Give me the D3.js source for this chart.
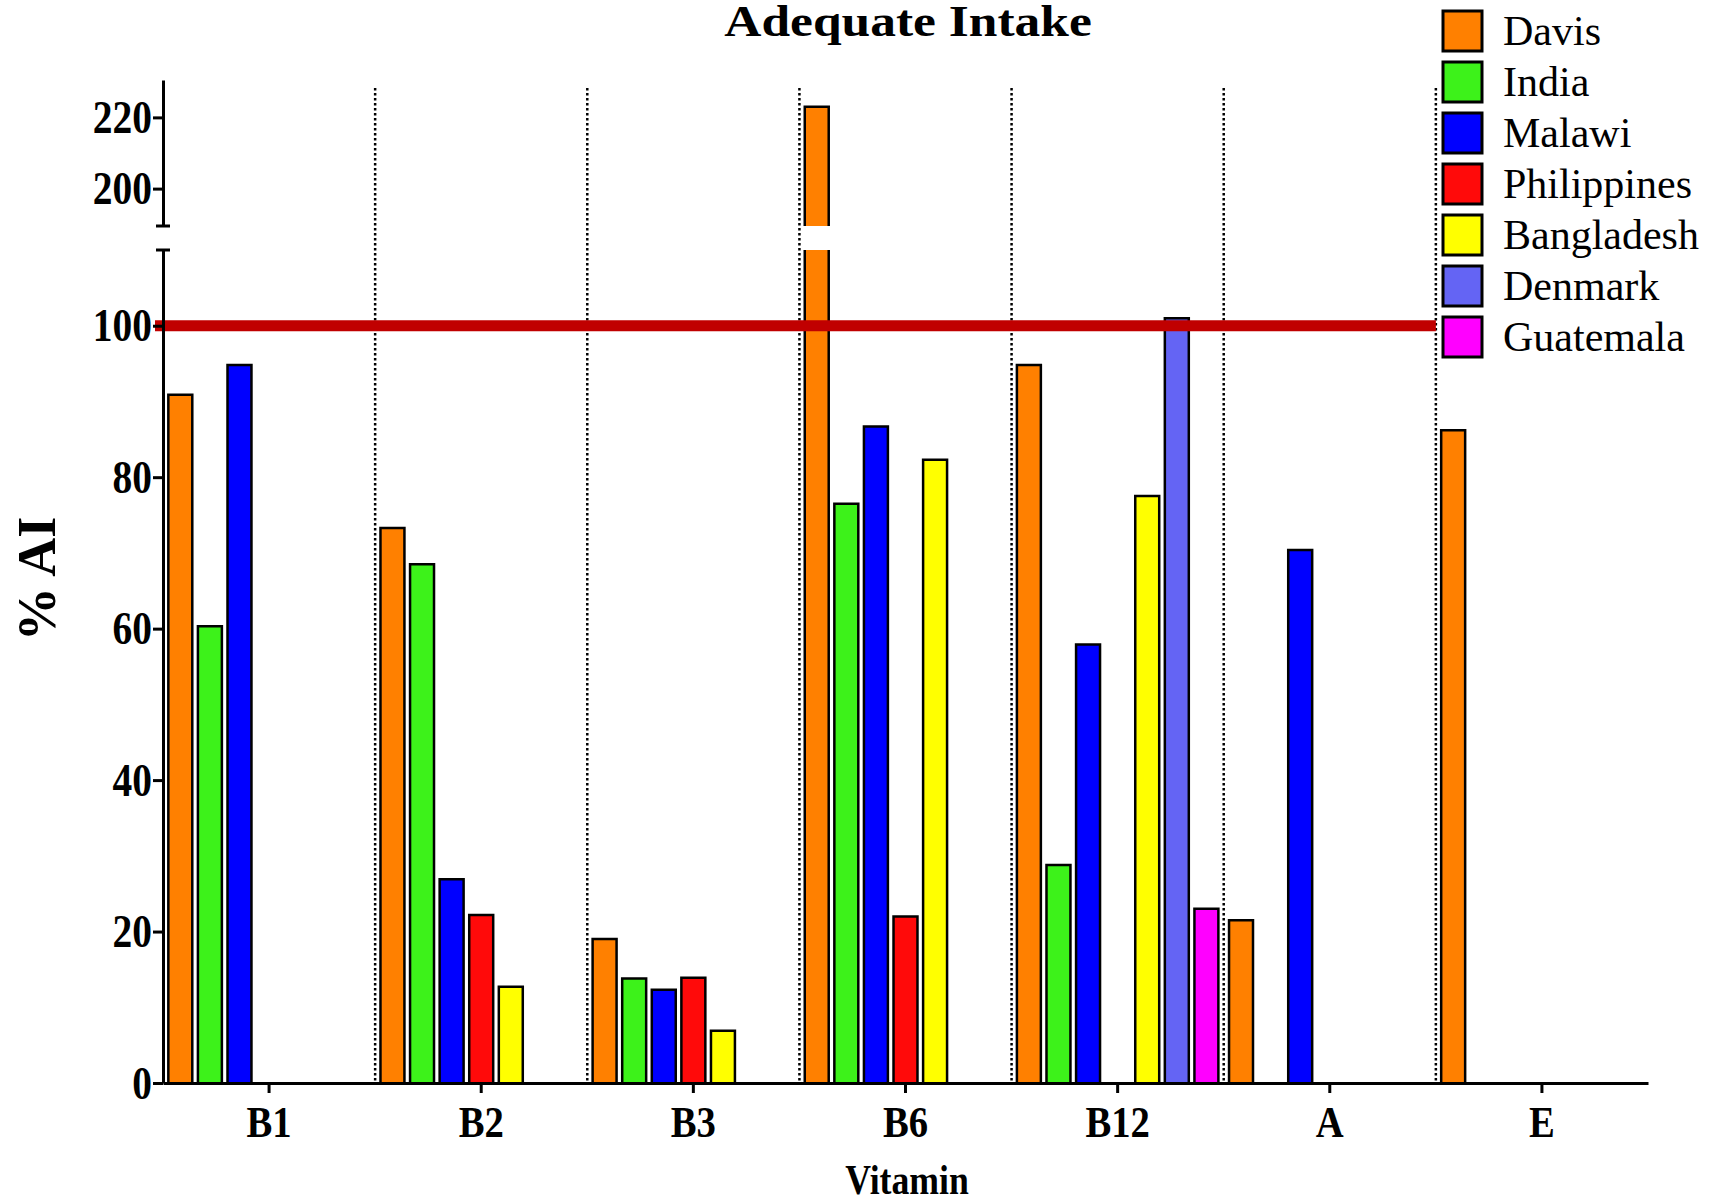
<!DOCTYPE html>
<html>
<head>
<meta charset="utf-8">
<script src="https://cdn.jsdelivr.net/npm/d3@7"></script>
<style>
  body { margin: 0; background: #fff; }
  svg { display: block; font-family: "Liberation Serif", "Times New Roman", serif; }
  .axis path, .axis line { stroke: #000; stroke-width: 3; }
</style>
</head>
<body>
<script>
// ---------------- data ----------------
var categories = ["B1", "B2", "B3", "B6", "B12", "A", "E"];
var series = ["Davis", "India", "Malawi", "Philippines", "Bangladesh", "Denmark", "Guatemala"];
var seriesColors = ["#ff8000", "#3df21a", "#0000ff", "#ff0a0a", "#ffff00", "#6464f4", "#ff00ff"];

// % of adequate intake, null = no bar
var davis       = [90.9, 73.3, 19.0, 223.0, 94.8, 21.5, 86.2];
var india       = [60.3, 68.5, 13.8, 76.5, 28.8, null, null];
var malawi      = [94.8, 26.9, 12.3, 86.7, 57.9, 70.4, null];
var philippines = [null, 22.2, 13.9, 22.0, null, null, null];
var bangladesh  = [null, 12.7, 6.9, 82.3, 77.5, null, null];
var denmark     = [null, null, null, null, 101.0, null, null];
var guatemala   = [null, null, null, null, 23.0, null, null];

var seriesValues = [davis, india, malawi, philippines, bangladesh, denmark, guatemala];
var referenceLine = 100;
var lowerTicks = [0, 20, 40, 60, 80, 100];
var upperTicks = [200, 220];

// ---------------- layout ----------------
var W = 1717, H = 1202;
var axisX = 163, axisEnd = 1648, baseY = 1083;

var svg = d3.select("body").append("svg")
    .attr("width", W)
    .attr("height", H);

var x = d3.scaleBand().domain(categories).range([axisX, axisEnd]).paddingInner(0).paddingOuter(0);
var xInner = d3.scaleBand().domain(series).range([0, x.bandwidth()])
    .paddingInner(0.19).paddingOuter(0.18);

// broken y axis: two linear pieces
var breakLow = 110, breakHigh = 189.5;
var yLow = d3.scaleLinear().domain([0, breakLow]).range([baseY, 250]);
var yUp = d3.scaleLinear().domain([breakHigh, 230.5]).range([226, 80]);

// rows for drawing
var bars = [];
seriesValues.forEach(function(vals, s) {
    vals.forEach(function(v, c) {
        if (v == null) return;
        bars.push({ cat: categories[c], ser: series[s], color: seriesColors[s], value: v });
    });
});

// dotted separators between groups
svg.append("g").selectAll("line")
    .data(categories.slice(1))
    .enter().append("line")
        .attr("x1", function(d) { return x(d); })
        .attr("x2", function(d) { return x(d); })
        .attr("y1", 88)
        .attr("y2", baseY)
        .attr("stroke", "#000")
        .attr("stroke-width", 2.5)
        .attr("stroke-dasharray", "2.5,2.5");

// bars (fill first, then outline so broken bars keep open ends)
var barG = svg.append("g");
bars.forEach(function(b) {
    var bx = x(b.cat) + xInner(b.ser), bw = xInner.bandwidth();
    if (b.value <= breakLow) {
        var top = yLow(b.value);
        barG.append("rect")
            .attr("x", bx).attr("y", top)
            .attr("width", bw).attr("height", baseY - top)
            .attr("fill", b.color);
        barG.append("path")
            .attr("d", "M" + bx + "," + baseY + "V" + top + "H" + (bx + bw) + "V" + baseY)
            .attr("fill", "none").attr("stroke", "#000").attr("stroke-width", 2.5);
    } else {
        var top = yUp(b.value), upBot = yUp(breakHigh), lowTop = yLow(breakLow);
        barG.append("rect")
            .attr("x", bx).attr("y", top)
            .attr("width", bw).attr("height", upBot - top)
            .attr("fill", b.color);
        barG.append("rect")
            .attr("x", bx).attr("y", lowTop)
            .attr("width", bw).attr("height", baseY - lowTop)
            .attr("fill", b.color);
        barG.append("path")
            .attr("d", "M" + bx + "," + upBot + "V" + top + "H" + (bx + bw) + "V" + upBot +
                       "M" + bx + "," + lowTop + "V" + baseY +
                       "M" + (bx + bw) + "," + lowTop + "V" + baseY)
            .attr("fill", "none").attr("stroke", "#000").attr("stroke-width", 2.5);
    }
});

// reference line at 100 %
svg.append("line")
    .attr("x1", axisX - 8)
    .attr("x2", x("E"))
    .attr("y1", yLow(referenceLine))
    .attr("y2", yLow(referenceLine))
    .attr("stroke", "#c00000")
    .attr("stroke-width", 11);

// y axis, lower part
var gLow = svg.append("g")
    .attr("class", "axis")
    .attr("transform", "translate(" + axisX + ",0)")
    .call(d3.axisLeft(yLow).tickValues(lowerTicks).tickSize(10).tickSizeOuter(0));

// y axis, upper part
var gUp = svg.append("g")
    .attr("class", "axis")
    .attr("transform", "translate(" + axisX + ",0)")
    .call(d3.axisLeft(yUp).tickValues(upperTicks).tickSize(10).tickSizeOuter(0));

[gLow, gUp].forEach(function(g) {
    g.selectAll(".tick text")
        .attr("x", null)
        .attr("transform", "translate(-11,0) scale(0.84,1)")
        .attr("fill", "#000")
        .style("font-family", "Liberation Serif, serif")
        .style("font-size", "47px")
        .style("font-weight", "bold");
});

// caps at the axis break
[yUp(breakHigh), yLow(breakLow)].forEach(function(cy) {
    svg.append("line")
        .attr("x1", axisX - 7).attr("x2", axisX + 7)
        .attr("y1", cy).attr("y2", cy)
        .attr("stroke", "#000").attr("stroke-width", 3);
});

// x axis
var gX = svg.append("g")
    .attr("class", "axis")
    .attr("transform", "translate(0," + baseY + ")")
    .call(d3.axisBottom(x).tickSize(10).tickSizeOuter(0));

gX.selectAll(".tick text")
    .attr("y", null)
    .attr("dy", null)
    .attr("transform", "translate(0,54) scale(0.86,1)")
    .attr("fill", "#000")
    .style("font-family", "Liberation Serif, serif")
    .style("font-size", "45px")
    .style("font-weight", "bold");

// title
svg.append("text")
    .attr("transform", "translate(908,36) scale(1.17,1)")
    .style("text-anchor", "middle")
    .style("font-size", "44px")
    .style("font-weight", "bold")
    .text("Adequate Intake");

// x label
svg.append("text")
    .attr("transform", "translate(907,1194) scale(0.85,1)")
    .style("text-anchor", "middle")
    .style("font-size", "42px")
    .style("font-weight", "bold")
    .text("Vitamin");

// y label
svg.append("text")
    .attr("transform", "translate(55,579) rotate(-90)")
    .style("text-anchor", "middle")
    .style("font-size", "54px")
    .style("font-weight", "bold")
    .text("% AI");

// legend
var legend = svg.append("g");
series.forEach(function(s, i) {
    legend.append("rect")
        .attr("x", 1443)
        .attr("y", 11 + i * 51)
        .attr("width", 39)
        .attr("height", 40)
        .attr("fill", seriesColors[i])
        .attr("stroke", "#000")
        .attr("stroke-width", 3);
    legend.append("text")
        .attr("x", 1503)
        .attr("y", 45 + i * 51)
        .style("font-size", "42px")
        .text(s);
});
</script>
</body>
</html>
